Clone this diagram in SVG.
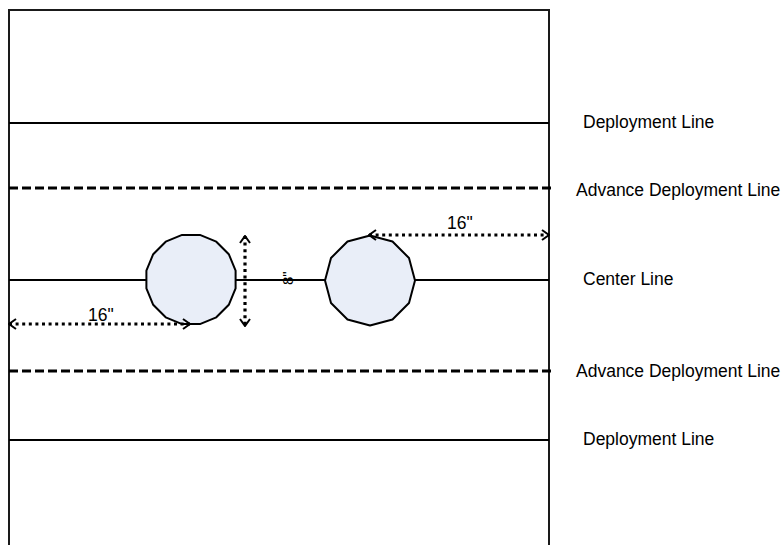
<svg xmlns="http://www.w3.org/2000/svg" width="782" height="545" viewBox="0 0 782 545">
  <style>
    .frame { fill: none; stroke: #1a1a1a; stroke-width: 2; }
    .line { stroke: #000; stroke-width: 2; fill: none; }
    .dashed { stroke: #000; stroke-width: 3; stroke-dasharray: 9 4; fill: none; }
    .dim { stroke: #000; stroke-width: 3.2; stroke-dasharray: 3 3.6; fill: none; marker-start: url(#chev); marker-end: url(#chev); }
    .disc { fill: #e9eef8; stroke: #000; stroke-width: 2; stroke-linejoin: round; }
    .lbl { font-family: "Liberation Sans", Arial, sans-serif; font-size: 17.5px; fill: #000; }
  </style>
  <defs>
    <marker id="chev" viewBox="0 0 10 12" refX="9" refY="6" markerWidth="10" markerHeight="12" markerUnits="userSpaceOnUse" orient="auto-start-reverse">
      <path d="M2,1 L9,6 L2,11" fill="none" stroke="#000" stroke-width="2"/>
    </marker>
  </defs>

  <g id="field">
    <path class="frame" d="M9,548 L9,10 L549,10 L549,548"/>
    <line class="line" x1="9" y1="123" x2="549" y2="123"/>
    <line class="dashed" x1="9" y1="188" x2="553" y2="188"/>
    <line class="line" x1="9" y1="280" x2="549" y2="280"/>
    <line class="dashed" x1="9" y1="371" x2="553" y2="371"/>
    <line class="line" x1="9" y1="440" x2="549" y2="440"/>
  </g>

  <g id="disc-left">
    <polygon class="disc" points="235.6,288.4 228.8,304.8 216.3,317.3 199.9,324.1 182.1,324.1 165.7,317.3 153.2,304.8 146.4,288.4 146.4,270.6 153.2,254.2 165.7,241.7 182.1,234.9 199.9,234.9 216.3,241.7 228.8,254.2 235.6,270.6"/>
  </g>
  <g id="disc-right">
    <polygon class="disc" points="415,280.5 409,303 392.5,319.5 370,325.5 347.5,319.5 331,303 325,280.5 331,258 347.5,241.5 370,235.5 392.5,241.5 409,258"/>
  </g>

  <g id="connectors">
    <line class="dim" x1="369" y1="235" x2="549" y2="235"/>
    <line class="dim" x1="9" y1="324" x2="190" y2="324"/>
    <line class="dim" x1="245" y1="236" x2="245" y2="326"/>
  </g>

  <g id="labels">
    <text class="lbl" x="447" y="229">16"</text>
    <text class="lbl" x="88" y="321">16"</text>
    <text class="lbl" transform="translate(293,285) rotate(-90)" style="font-size:15px">8"</text>
    <text class="lbl" x="583" y="128">Deployment Line</text>
    <text class="lbl" x="576" y="196">Advance Deployment Line</text>
    <text class="lbl" x="583" y="285">Center Line</text>
    <text class="lbl" x="576" y="377">Advance Deployment Line</text>
    <text class="lbl" x="583" y="445">Deployment Line</text>
  </g>
</svg>
